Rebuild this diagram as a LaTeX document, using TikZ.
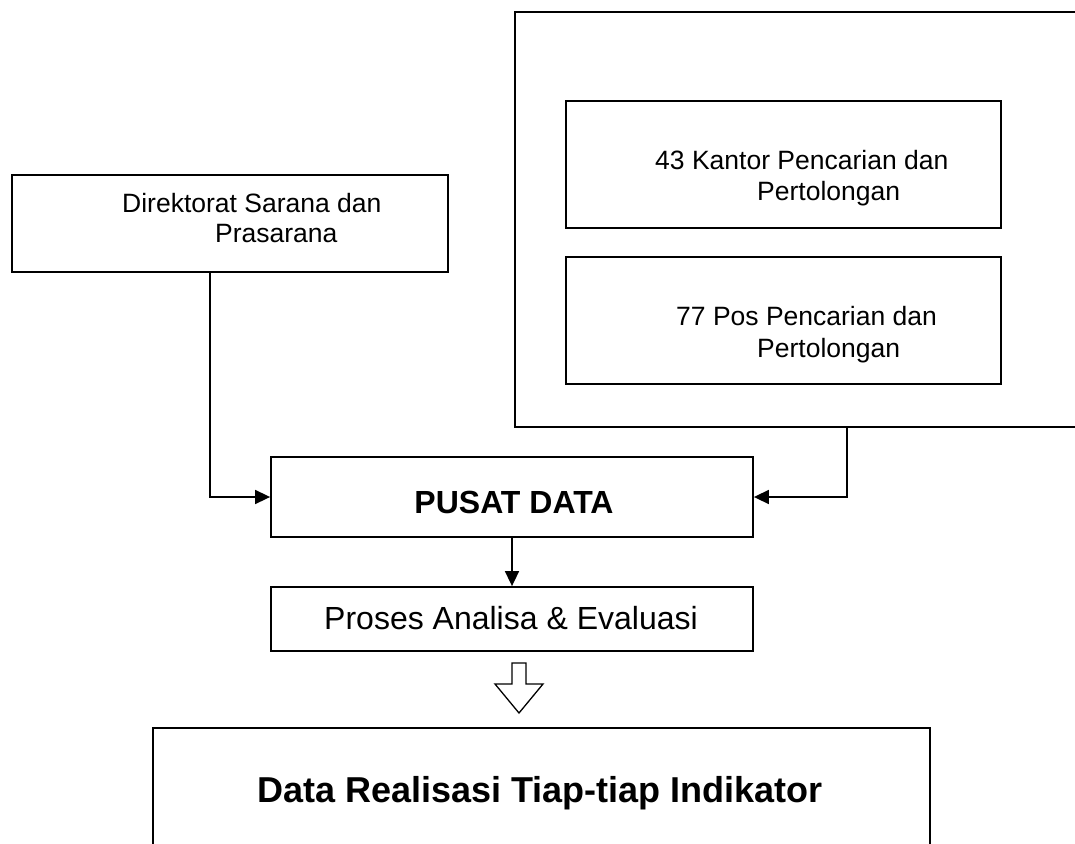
\documentclass[tikz,border=0pt]{standalone}
\usepackage{fontspec}
\setmainfont{Liberation Sans}
\usetikzlibrary{arrows.meta}
\tikzset{
  box/.style={draw, line width=1.8pt, inner sep=0pt},
  txt/.style={anchor=base west, inner sep=0pt},
  ctxt/.style={anchor=base, inner sep=0pt},
  arr/.style={line width=1.6pt, -{Triangle[length=15pt,width=14pt]}},
  hollowarrow/.style={draw, line width=1.3pt, fill=white, line join=miter},
  small/.style={font=\fontsize{26.5}{31}\selectfont},
  big/.style={font=\fontsize{32}{38}\selectfont},
  bigb/.style={font=\fontsize{32}{38}\selectfont\bfseries},
  hugeb/.style={font=\fontsize{36}{42}\selectfont\bfseries}
}
\begin{document}
\begin{tikzpicture}[x=1pt,y=-1pt]
\useasboundingbox (0,0) rectangle (1075,843);
\clip (0,0) rectangle (1075,843);
% boxes
\node[box, minimum width=585pt, minimum height=415pt] (outer) at (807.5,219.5) {};
\node[box, minimum width=435pt, minimum height=127pt] (kantor) at (783.5,164.5) {};
\node[box, minimum width=435pt, minimum height=127pt] (pos) at (783.5,320.5) {};
\node[box, minimum width=436pt, minimum height=97pt] (dir) at (230,223.5) {};
\node[box, minimum width=482pt, minimum height=80pt] (pusat) at (512,497) {};
\node[box, minimum width=482pt, minimum height=64pt] (proses) at (512,619) {};
\node[box, minimum width=777pt, minimum height=142pt] (hasil) at (541.5,799) {};
% texts
\node[txt, small] (t1) at (122,212) {Direktorat Sarana dan};
\node[txt, small] (t2) at (215,242) {Prasarana};
\node[txt, small] (t3) at (655,169) {43 Kantor Pencarian dan};
\node[txt, small] (t4) at (757,200) {Pertolongan};
\node[txt, small] (t5) at (676,325) {77 Pos Pencarian dan};
\node[txt, small] (t6) at (757,357) {Pertolongan};
\node[ctxt, bigb] (t7) at (514,513) {PUSAT DATA};
\node[ctxt, big] (t8) at (511,629) {Proses Analisa \& Evaluasi};
\node[ctxt, hugeb] (t9) at (540,802) {Data Realisasi Tiap-tiap Indikator};
% connectors
\draw[arr] ([xshift=199pt]dir.south west) |- (pusat.west);
\draw[arr] ([xshift=333pt]outer.south west) |- (pusat.east);
\draw[arr] (pusat) -- (proses);
% hollow arrow
\coordinate (ha) at (519,663);
\draw[hollowarrow] ([xshift=-7pt]ha) -- ([xshift=7pt]ha) -- ([xshift=7pt,yshift=-21pt]ha)
  -- ([xshift=24pt,yshift=-21pt]ha) -- ([yshift=-50pt]ha) -- ([xshift=-24pt,yshift=-21pt]ha)
  -- ([xshift=-7pt,yshift=-21pt]ha) -- cycle;
\end{tikzpicture}
\end{document}
